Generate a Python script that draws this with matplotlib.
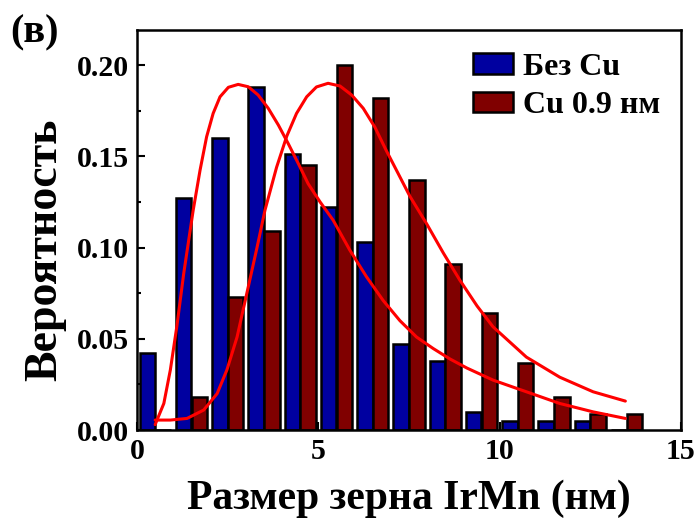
import numpy as np
import matplotlib
matplotlib.use("Agg")
import matplotlib.pyplot as plt
from matplotlib.ticker import MultipleLocator, FormatStrFormatter

# histogram data (bins of 1 nm)
bin_centers = np.arange(14) + 0.5
p_no_cu = [0.042, 0.127, 0.160, 0.188, 0.151, 0.122, 0.103, 0.047, 0.038, 0.010,
           0.005, 0.005, 0.005, 0.0]
p_cu = [0.0, 0.018, 0.073, 0.109, 0.145, 0.200, 0.182, 0.137, 0.091, 0.064,
        0.037, 0.018, 0.009, 0.009]

# fitted curves
fit1_x = [0.50, 0.74, 0.92, 1.10, 1.29, 1.55, 1.74, 1.92, 2.10, 2.29, 2.52, 2.79,
          3.07, 3.34, 3.62, 3.90, 4.17, 4.45, 4.72, 5.05, 5.41, 5.87, 6.33, 6.79,
          7.25, 7.71, 8.17, 8.63, 9.10, 9.82, 10.74, 11.66, 12.58, 13.47]
fit1_y = [0.003, 0.0146, 0.033, 0.057, 0.086, 0.1205, 0.1425, 0.1607, 0.1735,
          0.1826, 0.1878, 0.1894, 0.1881, 0.1836, 0.1763, 0.1671, 0.157, 0.146,
          0.135, 0.125, 0.115, 0.0986, 0.084, 0.071, 0.060, 0.051, 0.0447, 0.039,
          0.034, 0.0274, 0.021, 0.0146, 0.010, 0.0064]
fit2_x = [0.50, 0.92, 1.38, 1.84, 2.21, 2.48, 2.76, 3.03, 3.31, 3.53, 3.85, 4.13,
          4.40, 4.68, 4.95, 5.27, 5.60, 5.92, 6.24, 6.56, 6.88, 7.20, 7.53, 7.99,
          8.45, 8.91, 9.38, 9.82, 10.74, 11.66, 12.58, 13.47]
fit2_y = [0.0055, 0.0055, 0.0064, 0.011, 0.020, 0.033, 0.051, 0.075, 0.100, 0.1205,
          0.144, 0.161, 0.1735, 0.1826, 0.188, 0.190, 0.1885, 0.1836, 0.1763, 0.166,
          0.153, 0.1407, 0.128, 0.113, 0.097, 0.082, 0.068, 0.0566, 0.040, 0.029,
          0.021, 0.0159]

plt.rcParams['font.family'] = ['Liberation Serif', 'DejaVu Serif']
plt.rcParams['font.weight'] = 'bold'

fig = plt.figure(figsize=(6.99, 5.31), dpi=100)
ax = fig.add_axes([0.196, 0.190, 0.778, 0.7535])

w = 0.43
ax.bar(bin_centers - 0.215, p_no_cu, width=w, color='#0000a0', edgecolor='black',
       linewidth=1.8, label='Без Cu', zorder=2)
ax.bar(bin_centers + 0.22, p_cu, width=w, color='#800000', edgecolor='black',
       linewidth=1.8, label='Cu 0.9 нм', zorder=2)

ax.plot(fit1_x, fit1_y, color='#ff0000', lw=2.2, zorder=3,
        solid_joinstyle='round', solid_capstyle='round')
ax.plot(fit2_x, fit2_y, color='#ff0000', lw=2.2, zorder=3,
        solid_joinstyle='round', solid_capstyle='round')

ax.set_xlim(0, 15)
ax.set_ylim(0, 0.2192)
ax.xaxis.set_major_locator(MultipleLocator(5))
ax.xaxis.set_minor_locator(MultipleLocator(2.5))
ax.yaxis.set_major_locator(MultipleLocator(0.05))
ax.yaxis.set_minor_locator(MultipleLocator(0.025))
ax.yaxis.set_major_formatter(FormatStrFormatter('%.2f'))
ax.tick_params(which='both', direction='in', labelsize=21.5, width=1.5)
ax.tick_params(which='major', length=6, pad=6)
ax.tick_params(which='minor', length=3)
for s in ax.spines.values():
    s.set_linewidth(1.8)

ax.set_xlabel('Размер зерна IrMn (нм)', fontsize=30, fontweight='bold', labelpad=10)
ax.set_ylabel('Вероятность', fontsize=33, fontweight='bold')
ax.yaxis.set_label_coords(-0.13, 0.45)

ax.legend(loc='upper left', bbox_to_anchor=(0.595, 0.975), frameon=False, fontsize=23,
          handlelength=1.25, handleheight=0.62, handletextpad=0.3, labelspacing=0.3,
          borderaxespad=0.0)

fig.text(0.014, 0.972, '(в)', fontsize=29, fontweight='bold', va='top', ha='left')

fig.savefig('out.png', dpi=100)
